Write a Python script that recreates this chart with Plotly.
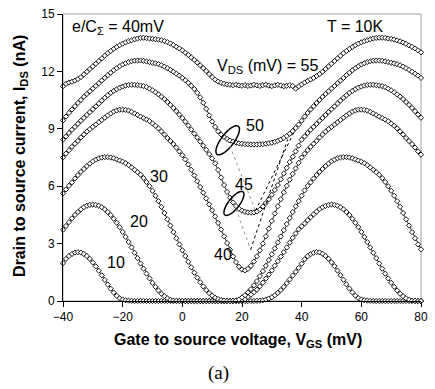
import math
import plotly.graph_objects as go

VGS = list(range(-40, 81))

I10 = [1.98, 2.20, 2.35, 2.46, 2.53, 2.55, 2.53, 2.46, 2.35, 2.20,
       2.01, 1.81, 1.58, 1.34, 1.10, 0.86, 0.64, 0.44, 0.27, 0.14,
       0.08, 0.04, 0.02, 0.01, 0.00, 0.00, 0.00, 0.01, 0.00, 0.00,
       0.00, 0.00, 0.00, 0.00, 0.00, 0.00, 0.00, 0.00, 0.00, 0.00,
       0.00, 0.00, 0.00, 0.00, 0.00, 0.00, 0.00, 0.00, 0.00, 0.00,
       0.00, 0.00, 0.00, 0.00, 0.00, 0.00, 0.00, 0.00, 0.00, 0.00,
       0.00, 0.00, 0.00, 0.00, 0.00, 0.01, 0.02, 0.04, 0.08, 0.13,
       0.20, 0.30, 0.42, 0.57, 0.74, 0.93, 1.13, 1.33, 1.53, 1.73,
       1.95, 2.18, 2.34, 2.45, 2.52, 2.56, 2.54, 2.47, 2.36, 2.21,
       2.02, 1.82, 1.59, 1.35, 1.11, 0.87, 0.65, 0.45, 0.28, 0.15,
       0.08, 0.04, 0.02, 0.01, 0.00, 0.00, 0.00, 0.00, 0.00, 0.00,
       0.00, 0.00, 0.00, 0.00, 0.00, 0.00, 0.00, 0.00, 0.00, 0.00,
       0.00]

I20 = [3.72, 3.92, 4.12, 4.32, 4.50, 4.65, 4.79, 4.90, 4.98, 5.02,
       5.04, 5.02, 4.98, 4.90, 4.79, 4.65, 4.49, 4.30, 4.09, 3.86,
       3.61, 3.35, 3.08, 2.80, 2.52, 2.24, 1.96, 1.69, 1.43, 1.18,
       0.95, 0.74, 0.55, 0.38, 0.25, 0.14, 0.06, 0.02, 0.01, 0.00,
       0.00, 0.00, 0.00, 0.00, 0.00, 0.00, 0.00, 0.00, 0.00, 0.00,
       0.00, 0.00, 0.00, 0.00, 0.00, 0.00, 0.00, 0.00, 0.01, 0.02,
       0.05, 0.10, 0.22, 0.33, 0.46, 0.59, 0.77, 0.96, 1.17, 1.38,
       1.60, 1.84, 2.08, 2.32, 2.55, 2.80, 3.05, 3.30, 3.53, 3.75,
       3.90, 4.05, 4.22, 4.38, 4.53, 4.67, 4.80, 4.90, 4.97, 5.02,
       5.04, 5.02, 4.98, 4.90, 4.79, 4.65, 4.49, 4.30, 4.09, 3.86,
       3.61, 3.35, 3.08, 2.80, 2.52, 2.24, 1.96, 1.69, 1.43, 1.18,
       0.95, 0.74, 0.55, 0.38, 0.25, 0.14, 0.06, 0.02, 0.01, 0.00,
       0.00]

I30 = [5.63, 5.83, 6.02, 6.20, 6.40, 6.58, 6.75, 6.90, 7.05, 7.18,
       7.30, 7.39, 7.46, 7.50, 7.52, 7.52, 7.50, 7.46, 7.40, 7.34,
       7.28, 7.20, 7.10, 6.98, 6.86, 6.73, 6.60, 6.42, 6.22, 6.00,
       5.76, 5.50, 5.22, 4.92, 4.60, 4.27, 3.94, 3.60, 3.28, 2.96,
       2.65, 2.35, 2.05, 1.76, 1.48, 1.22, 0.98, 0.76, 0.57, 0.41,
       0.28, 0.17, 0.10, 0.05, 0.02, 0.01, 0.00, 0.01, 0.03, 0.08,
       0.18, 0.30, 0.45, 0.62, 0.82, 1.04, 1.30, 1.56, 1.84, 2.14,
       2.44, 2.75, 3.06, 3.37, 3.70, 4.02, 4.34, 4.65, 4.95, 5.22,
       5.50, 5.78, 6.02, 6.20, 6.40, 6.58, 6.75, 6.90, 7.05, 7.18,
       7.30, 7.39, 7.46, 7.50, 7.52, 7.52, 7.50, 7.46, 7.40, 7.34,
       7.28, 7.20, 7.10, 6.98, 6.86, 6.73, 6.60, 6.42, 6.22, 6.00,
       5.76, 5.50, 5.22, 4.92, 4.60, 4.27, 3.94, 3.60, 3.28, 2.96,
       2.70]

I40 = [7.50, 7.70, 7.88, 8.06, 8.22, 8.37, 8.55, 8.70, 8.85, 8.98,
       9.10, 9.22, 9.34, 9.46, 9.58, 9.70, 9.80, 9.90, 9.96, 10.00,
       10.00, 9.99, 9.95, 9.88, 9.80, 9.72, 9.64, 9.56, 9.48, 9.40,
       9.28, 9.16, 9.02, 8.86, 8.70, 8.52, 8.36, 8.20, 8.02, 7.82,
       7.62, 7.40, 7.14, 6.86, 6.56, 6.26, 5.96, 5.66, 5.36, 5.05,
       4.74, 4.42, 4.08, 3.73, 3.38, 3.03, 2.68, 2.33, 2.03, 1.79,
       1.64, 1.60, 1.68, 1.84, 2.06, 2.34, 2.65, 3.00, 3.38, 3.78,
       4.18, 4.57, 4.95, 5.32, 5.68, 6.02, 6.34, 6.64, 6.93, 7.22,
       7.50, 7.70, 7.88, 8.06, 8.22, 8.37, 8.55, 8.70, 8.85, 8.98,
       9.10, 9.22, 9.34, 9.46, 9.58, 9.70, 9.80, 9.90, 9.96, 10.00,
       10.00, 9.99, 9.95, 9.88, 9.80, 9.72, 9.64, 9.56, 9.48, 9.40,
       9.28, 9.16, 9.02, 8.86, 8.70, 8.52, 8.36, 8.20, 8.02, 7.82,
       7.65]

I45 = [8.43, 8.60, 8.78, 8.95, 9.10, 9.26, 9.42, 9.57, 9.72, 9.87,
       10.02, 10.17, 10.32, 10.47, 10.62, 10.75, 10.88, 10.98, 11.07, 11.15,
       11.21, 11.26, 11.29, 11.30, 11.30, 11.28, 11.26, 11.23, 11.18, 11.10,
       11.01, 10.91, 10.80, 10.68, 10.55, 10.40, 10.25, 10.09, 9.92, 9.74,
       9.56, 9.37, 9.17, 8.96, 8.75, 8.54, 8.33, 8.12, 7.90, 7.68,
       7.45, 7.20, 6.85, 6.45, 6.06, 5.70, 5.40, 5.15, 4.96, 4.82,
       4.72, 4.66, 4.63, 4.62, 4.63, 4.68, 4.78, 4.94, 5.12, 5.32,
       5.55, 5.80, 6.06, 6.36, 6.66, 6.96, 7.26, 7.54, 7.82, 8.12,
       8.43, 8.60, 8.78, 8.95, 9.10, 9.26, 9.42, 9.57, 9.72, 9.87,
       10.02, 10.17, 10.32, 10.47, 10.62, 10.75, 10.88, 10.98, 11.07, 11.15,
       11.21, 11.26, 11.29, 11.30, 11.30, 11.28, 11.26, 11.23, 11.18, 11.10,
       11.01, 10.91, 10.80, 10.68, 10.55, 10.40, 10.25, 10.09, 9.92, 9.74,
       9.58]

I50 = [9.44, 9.64, 9.83, 10.01, 10.18, 10.35, 10.51, 10.67, 10.82, 10.96,
       11.10, 11.24, 11.38, 11.52, 11.66, 11.80, 11.93, 12.06, 12.17, 12.27,
       12.36, 12.43, 12.49, 12.53, 12.56, 12.57, 12.57, 12.55, 12.52, 12.49,
       12.45, 12.42, 12.38, 12.32, 12.25, 12.17, 12.08, 11.98, 11.88, 11.78,
       11.66, 11.54, 11.40, 11.25, 11.08, 10.88, 10.64, 10.36, 10.04, 9.70,
       9.38, 9.10, 8.87, 8.70, 8.57, 8.47, 8.39, 8.33, 8.28, 8.24,
       8.22, 8.20, 8.19, 8.18, 8.18, 8.18, 8.19, 8.20, 8.22, 8.25,
       8.28, 8.32, 8.37, 8.44, 8.52, 8.62, 8.74, 8.88, 9.04, 9.22,
       9.42, 9.64, 9.83, 10.01, 10.18, 10.35, 10.51, 10.67, 10.82, 10.96,
       11.10, 11.24, 11.38, 11.52, 11.66, 11.80, 11.93, 12.06, 12.17, 12.27,
       12.36, 12.43, 12.49, 12.53, 12.56, 12.57, 12.57, 12.55, 12.52, 12.49,
       12.45, 12.42, 12.38, 12.32, 12.25, 12.17, 12.08, 11.98, 11.88, 11.78,
       11.66]

I55 = [11.22, 11.35, 11.42, 11.46, 11.52, 11.60, 11.70, 11.84, 11.98, 12.12,
       12.26, 12.40, 12.54, 12.68, 12.82, 12.95, 13.07, 13.18, 13.28, 13.37,
       13.45, 13.52, 13.58, 13.63, 13.68, 13.72, 13.75, 13.76, 13.74, 13.72,
       13.70, 13.68, 13.66, 13.63, 13.59, 13.53, 13.46, 13.38, 13.29, 13.20,
       13.10, 12.98, 12.86, 12.73, 12.60, 12.46, 12.32, 12.17, 12.02, 11.86,
       11.70, 11.57, 11.47, 11.40, 11.35, 11.32, 11.30, 11.28, 11.30, 11.27,
       11.25, 11.28, 11.24, 11.26, 11.30, 11.27, 11.24, 11.28, 11.30, 11.26,
       11.23, 11.27, 11.30, 11.26, 11.22, 11.25, 11.28, 11.24, 11.10, 11.22,
       11.32, 11.42, 11.50, 11.58, 11.66, 11.76, 11.86, 11.98, 12.12, 12.26,
       12.40, 12.54, 12.68, 12.82, 12.95, 13.07, 13.18, 13.28, 13.37, 13.45,
       13.52, 13.58, 13.63, 13.68, 13.72, 13.75, 13.76, 13.76, 13.75, 13.72,
       13.70, 13.66, 13.62, 13.57, 13.51, 13.44, 13.36, 13.28, 13.20, 13.10,
       13.00]

SERIES = [I10, I20, I30, I40, I45, I50, I55]
VDS_LABELS = ["10", "20", "30", "40", "45", "50"]
LABEL_POS = [(-22.3, 2.03), (-14.4, 4.17), (-7.8, 6.5), (13.6, 2.44), (20.8, 6.1), (24.4, 9.15)]

XTICKS = [-40, -20, 0, 20, 40, 60, 80]
YTICKS = [0, 3, 6, 9, 12, 15]

FONT = "Liberation Sans, Arial, sans-serif"

fig = go.Figure()
for ys in SERIES:
    fig.add_trace(go.Scatter(
        x=VGS, y=ys, mode="lines+markers", cliponaxis=False,
        line=dict(color="black", width=0.8),
        marker=dict(symbol="diamond", size=4, color="white",
                    line=dict(color="black", width=0.9)),
        showlegend=False, hoverinfo="skip"))

SX = 365 / 120.0
SY = 294 / 15.0


def ellipse_path(cx, cy, a, b, theta_deg):
    th = math.radians(theta_deg)
    pts = []
    for k in range(49):
        t = 2 * math.pi * k / 48
        dx = a * math.cos(t) * math.cos(th) - b * math.sin(t) * math.sin(th)
        dy = a * math.cos(t) * math.sin(th) + b * math.sin(t) * math.cos(th)
        pts.append((cx + dx / SX, cy + dy / SY))
    return "M " + " L ".join(f"{x:.3f},{y:.3f}" for x, y in pts) + " Z"


shapes = [
    dict(type="rect", xref="paper", yref="paper", x0=0, y0=0, x1=1, y1=1,
         line=dict(color="#a0a0a0", width=1), layer="below"),
    dict(type="path", xref="x", yref="y", path=ellipse_path(15.2, 8.40, 18, 6.5, 53),
         line=dict(color="black", width=1.5)),
    dict(type="path", xref="x", yref="y", path=ellipse_path(17.3, 5.10, 15, 5.5, 52),
         line=dict(color="black", width=1.5)),
    dict(type="line", xref="x", yref="y", x0=15.2, y0=8.40, x1=24.5, y1=4.72,
         line=dict(color="#999999", width=1, dash="dot")),
    dict(type="line", xref="x", yref="y", x0=24.5, y0=4.72, x1=37.5, y1=8.85,
         line=dict(color="black", width=1, dash="dot")),
    dict(type="line", xref="x", yref="y", x0=17.3, y0=5.10, x1=22.9, y1=2.68,
         line=dict(color="#999999", width=1, dash="dot")),
    dict(type="line", xref="x", yref="y", x0=22.9, y0=2.68, x1=35.3, y1=8.45,
         line=dict(color="black", width=1, dash="dot")),
]

annotations = []
for lab, (ax_, ay_) in zip(VDS_LABELS, LABEL_POS):
    annotations.append(dict(x=ax_, y=ay_, xref="x", yref="y", text=lab, showarrow=False,
                            xanchor="center", yanchor="middle",
                            font=dict(family=FONT, size=16, color="black")))
annotations += [
    dict(x=10.9, y=12.25, xref="x", yref="y", xanchor="left", yanchor="middle",
         text="V<sub>DS</sub> (mV) = 55",
         showarrow=False, font=dict(family=FONT, size=16, color="black")),
    dict(x=-37.8, y=14.3, xref="x", yref="y", xanchor="left", yanchor="middle",
         text="e/C<sub>Σ</sub> = 40mV",
         showarrow=False, font=dict(family=FONT, size=16, color="black")),
    dict(x=47.8, y=14.35, xref="x", yref="y", xanchor="left", yanchor="middle", text="T = 10K",
         showarrow=False, font=dict(family=FONT, size=16, color="black")),
    dict(x=0.488, y=-0.139, xref="paper", yref="paper", xanchor="center", yanchor="middle",
         text="<b>Gate to source voltage, V<sub>GS</sub> (mV)</b>",
         showarrow=False, font=dict(family=FONT, size=16, color="black")),
    dict(x=-0.1205, y=0.505, xref="paper", yref="paper", xanchor="center", yanchor="middle",
         textangle=-90,
         text="<b>Drain to source current, I<sub>DS</sub> (nA)</b>",
         showarrow=False, font=dict(family=FONT, size=16, color="black")),
    dict(x=0.433, y=-0.252, xref="paper", yref="paper", xanchor="center", yanchor="middle",
         text="(a)",
         showarrow=False, font=dict(family="Liberation Serif, Times New Roman, serif", size=19, color="black")),
]

fig.update_layout(
    width=435, height=389,
    margin=dict(l=63, r=7, t=7, b=88),
    paper_bgcolor="white", plot_bgcolor="white",
    shapes=shapes, annotations=annotations,
    xaxis=dict(range=[-40, 80], tickvals=XTICKS, ticks="outside", ticklen=5, tickwidth=1,
               tickcolor="black", showline=True, linecolor="black", linewidth=1,
               showgrid=False, zeroline=False,
               tickfont=dict(family=FONT, size=12, color="black")),
    yaxis=dict(range=[0, 15], tickvals=YTICKS, ticks="outside", ticklen=5, tickwidth=1,
               tickcolor="black", showline=True, linecolor="black", linewidth=1,
               showgrid=False, zeroline=False,
               tickfont=dict(family=FONT, size=12, color="black")),
)

fig.write_html("out.html")
